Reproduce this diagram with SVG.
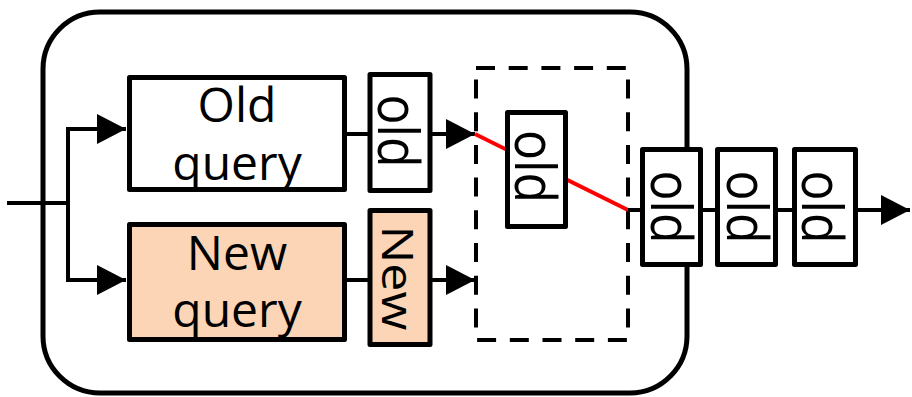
<svg xmlns="http://www.w3.org/2000/svg" width="912" height="397" viewBox="0 0 912 397">
<style>
.box{fill:#fff;stroke:#000;stroke-width:5;stroke-linejoin:round}
.peach{fill:#FBD5B5}
.ln{fill:none;stroke:#000;stroke-width:4;stroke-linejoin:miter}
.t{font-family:"Open Sans","Noto Sans","DejaVu Sans",sans-serif;font-size:48px;fill:#000;text-anchor:middle}
.s{font-family:"Open Sans","Noto Sans","DejaVu Sans",sans-serif;font-size:56px;fill:#000;text-anchor:middle}
</style>
<defs>
<marker id="ah" markerUnits="userSpaceOnUse" markerWidth="30" markerHeight="30" refX="29" refY="15" orient="auto" overflow="visible">
<path d="M0,0 L29,15 L0,30 Z" fill="#000"/>
</marker>
</defs>
<g id="container">
<rect x="43" y="12" width="644" height="381" rx="57" ry="57" fill="none" stroke="#000" stroke-width="5"/>
</g>
<g id="dashed-region">
<rect x="476" y="68" width="152" height="272" fill="none" stroke="#000" stroke-width="4" stroke-dasharray="19 13.7"/>
</g>
<g id="connectors">
<path class="ln" d="M7,203 H68"/>
<path class="ln" d="M68,203 V129 H126" marker-end="url(#ah)"/>
<path class="ln" d="M68,203 V280 H126" marker-end="url(#ah)"/>
<path class="ln" d="M345,134 H370"/>
<path class="ln" d="M430,134 H475" marker-end="url(#ah)"/>
<path class="ln" d="M345,280 H370"/>
<path class="ln" d="M430,280 H475" marker-end="url(#ah)"/>
<path d="M475,134 L628,210" fill="none" stroke="#FF0000" stroke-width="4"/>
<path class="ln" d="M628,210 H643"/>
<path class="ln" d="M700,210 H718"/>
<path class="ln" d="M775,210 H795"/>
<path class="ln" d="M855,210 H910" marker-end="url(#ah)"/>
</g>
<g id="old-query">
<rect class="box" x="129.5" y="77.5" width="215" height="112"/>
<text class="t" x="237" y="122">Old</text>
<text class="t" x="237" y="180">query</text>
</g>
<g id="new-query">
<rect class="box peach" x="129.5" y="224.5" width="215" height="115"/>
<text class="t" x="237" y="270">New</text>
<text class="t" x="237" y="327">query</text>
</g>
<g id="old-out">
<rect class="box" x="370" y="74.5" width="60" height="116"/>
<text class="s" transform="translate(378,131) rotate(90)" textLength="73" lengthAdjust="spacingAndGlyphs">old</text>
</g>
<g id="new-out">
<rect class="box peach" x="370" y="210.5" width="60" height="134"/>
<text class="s" style="font-size:44px" transform="translate(382,278) rotate(90)" textLength="105" lengthAdjust="spacingAndGlyphs">New</text>
</g>
<g id="old-mid">
<rect class="box" x="507.5" y="112.5" width="58" height="114"/>
<text class="s" transform="translate(515,166.5) rotate(90)" textLength="73" lengthAdjust="spacingAndGlyphs">old</text>
</g>
<g id="old-q1">
<rect class="box" x="642.5" y="149.5" width="58" height="115"/>
<text class="s" transform="translate(651,207) rotate(90)" textLength="73" lengthAdjust="spacingAndGlyphs">old</text>
</g>
<g id="old-q2">
<rect class="box" x="717.5" y="149.5" width="58" height="115"/>
<text class="s" transform="translate(727,207) rotate(90)" textLength="73" lengthAdjust="spacingAndGlyphs">old</text>
</g>
<g id="old-q3">
<rect class="box" x="794.5" y="149.5" width="61" height="115"/>
<text class="s" transform="translate(802,207) rotate(90)" textLength="73" lengthAdjust="spacingAndGlyphs">old</text>
</g>
</svg>
